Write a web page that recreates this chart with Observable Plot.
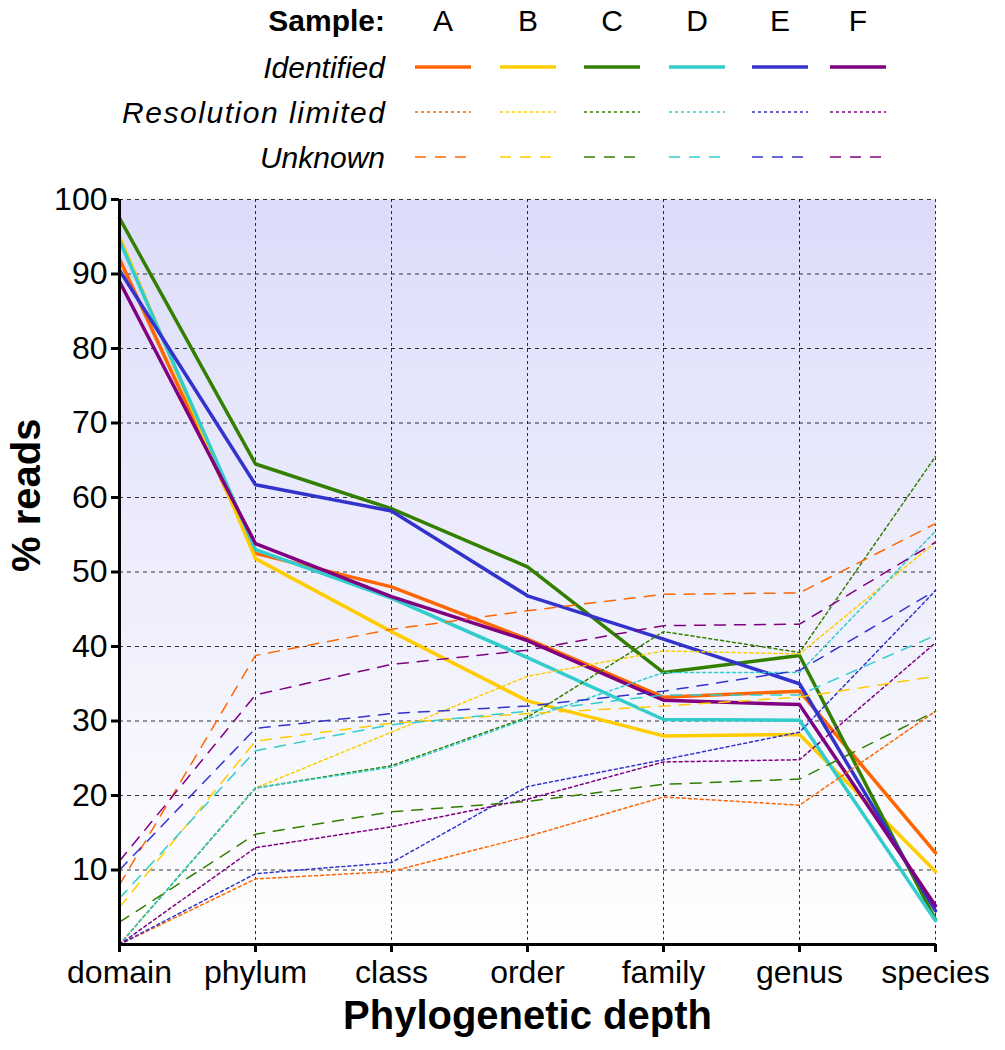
<!DOCTYPE html>
<html><head><meta charset="utf-8">
<script src="https://cdn.jsdelivr.net/npm/d3@7"></script>
<script src="https://cdn.jsdelivr.net/npm/@observablehq/plot@0.6"></script>
<style>body{margin:0;background:#fff;font-family:"Liberation Sans",Arial,sans-serif}</style>
</head><body><div id="legend"></div><div id="chart"></div>
<script>
const depths = ["domain","phylum","class","order","family","genus","species"];
const samples = ["A","B","C","D","E","F"];
const colors = ["#ff6600","#ffcc00","#338000","#33cccc","#3333cc","#800080"];
const kinds = ["Identified","Resolution limited","Unknown"];
const identified = {
  A:[92,52.5,48,41,33.2,34,12.3],
  B:[95,51.8,42,32.7,28,28.2,9.8],
  C:[97.5,64.5,58.5,50.7,36.5,38.8,3.3],
  D:[94.5,53,46.5,38.5,30.2,30.1,3.2],
  E:[90.5,61.7,58.2,46.8,41,35,4.5],
  F:[89,53.8,46.7,40.8,32.8,32.2,5.2]
};
const resolution = {
  A:[0,8.8,9.8,14.5,19.8,18.7,31.3],
  B:[0,21,28.5,36,39.4,39,54],
  C:[0,21,24,30.5,42,39.2,65.5],
  D:[0,21,23.8,30.3,36.5,36.5,55.5],
  E:[0,9.5,11,21.2,24.8,28.5,47.5],
  F:[0,13,15.8,19.5,24.5,24.8,40.5]
};
const unknown = {
  A:[8,38.8,42.3,44.8,47,47.2,56.5],
  B:[5,27.3,29.7,31,32,33.2,36],
  C:[3,14.8,17.8,19.2,21.5,22.2,31.3],
  D:[6.2,26,29.5,31.3,33.5,33.5,41.5],
  E:[10,29,31,32,34,36.8,47.5],
  F:[11.2,33.5,37.6,39.5,42.8,43,54]
};
const yTicks = [10,20,30,40,50,60,70,80,90,100];
const styles = {
  "Identified":{w:3.5,dash:null},
  "Resolution limited":{w:1.5,dash:"3,3"},
  "Unknown":{w:1.5,dash:"11,9"}
};
const src = {"Identified":identified,"Resolution limited":resolution,"Unknown":unknown};
const rows = [];
for (const k of kinds) for (const s of samples) depths.forEach((d,i)=>rows.push({kind:k,sample:s,depth:d,value:src[k][s][i]}));

// legend
const lx = [443,528,612,697,780,858];
const lg = d3.select("#legend").append("svg").attr("width",1005).attr("height",180)
  .style("font-family","'Liberation Sans',Arial,sans-serif");
lg.append("text").attr("x",385).attr("y",31).attr("text-anchor","end").attr("font-weight","bold").attr("font-size",30).text("Sample:");
samples.forEach((s,i)=>lg.append("text").attr("x",lx[i]).attr("y",31).attr("text-anchor","middle").attr("font-size",30).text(s));
const ly = [67,112,157];
kinds.forEach((k,j)=>{
  lg.append("text").attr("x",385).attr("y",ly[j]+11).attr("text-anchor","end").attr("font-style","italic").attr("font-size",30).attr("textLength",k==="Resolution limited"?263:null).text(k);
  samples.forEach((s,i)=>{
    const l = lg.append("line").attr("x1",lx[i]-28).attr("x2",lx[i]+28).attr("y1",ly[j]).attr("y2",ly[j])
      .attr("stroke",colors[i]).attr("stroke-width",styles[k].w);
    if (styles[k].dash) l.attr("stroke-dasharray",styles[k].dash);
  });
});

const lineMarks = [];
for (const k of kinds) {
  const st = styles[k];
  lineMarks.push(Plot.line(rows.filter(r=>r.kind===k),{x:"depth",y:"value",z:"sample",stroke:"sample",
    strokeWidth:st.w,strokeDasharray:st.dash ?? undefined,strokeLinejoin:"round"}));
}
const chart = Plot.plot({
  width:1005,height:870,marginTop:15,marginBottom:110,marginLeft:119,marginRight:70,
  style:{fontFamily:"'Liberation Sans',Arial,sans-serif",fontSize:"32px",color:"#000",background:"transparent"},
  x:{type:"point",domain:depths,padding:0,label:null},
  y:{domain:[0,100],label:null},
  color:{domain:samples,range:colors},
  marks:[
    Plot.frame({fill:"url(#bggrad)",stroke:null}),
    Plot.gridX(depths,{stroke:"#000",strokeOpacity:0.8,strokeDasharray:"3,3"}),
    Plot.gridY(yTicks,{stroke:"#000",strokeOpacity:0.8,strokeDasharray:"4,4"}),
    ...lineMarks,
    Plot.ruleX([depths[0]],{strokeWidth:3}),
    Plot.ruleY([0],{strokeWidth:3}),
    Plot.axisY(yTicks,{tickSize:8,tickPadding:4,fontSize:32,strokeWidth:3,label:null}),
    Plot.axisX(depths,{tickSize:8,tickPadding:8,fontSize:32,strokeWidth:3,label:null}),
    Plot.text(["% reads"],{frameAnchor:"left",dx:-92,rotate:-90,fontSize:40,fontWeight:"bold"}),
    Plot.text(["Phylogenetic depth"],{frameAnchor:"bottom",dy:84,fontSize:40,fontWeight:"bold"})
  ]
});
const ns="http://www.w3.org/2000/svg";
const defs=document.createElementNS(ns,"defs");
defs.innerHTML='<linearGradient id="bggrad" x1="0" y1="0" x2="0" y2="1"><stop offset="0" stop-color="#dcdcfa"/><stop offset="1" stop-color="#ffffff"/></linearGradient>';
chart.insertBefore(defs,chart.firstChild);
chart.style.overflow="visible";
document.getElementById("chart").appendChild(chart);
</script></body></html>
